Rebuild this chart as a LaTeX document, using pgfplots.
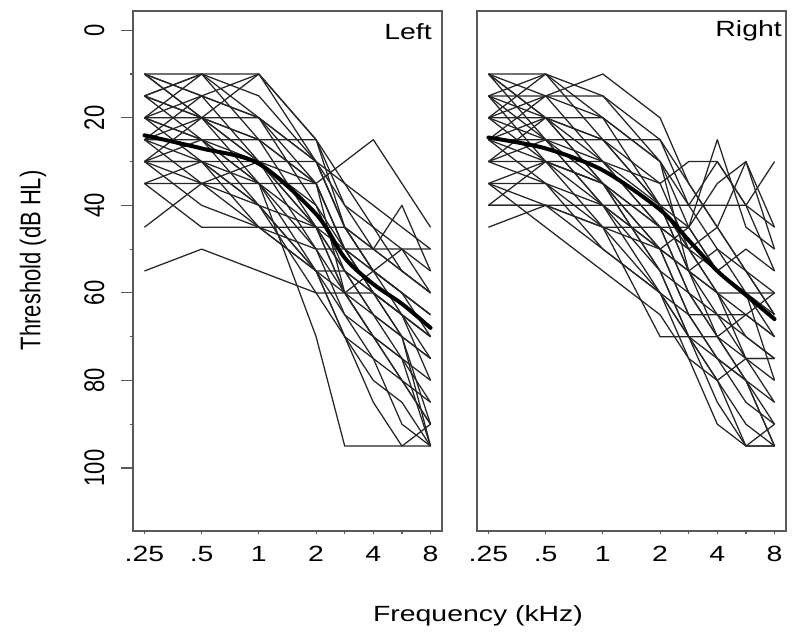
\documentclass[border=0pt]{standalone}
\usepackage{pgfplots}
\pgfplotsset{compat=1.18}
\usepackage{graphicx}
\usepackage{fontspec}
% the reference is stretched sideways, so the text is too
\setmainfont{Liberation Sans}[FakeStretch=1.29]
\newfontfamily\rotfont{Liberation Sans}

% one audiogram: .25 .5 1 2 3 4 6 kHz and 8 kHz (3 and 6 kHz sit half way)
\newcommand\ear[8]{\addplot[subj] coordinates {(1,#1)(2,#2)(3,#3)(4,#4)(4.5,#5)(5,#6)(5.5,#7)(6,#8)};}

\pgfplotsset{
  subj/.style={black!85, line width=0.95pt, line join=round},
  meanline/.style={black, line width=3pt, smooth, line cap=round},
  panel/.style={
    scale only axis, width=231.75pt, height=390pt, anchor=south west,
    xmin=0.8, xmax=6.2, ymin=-4.4, ymax=114.4, y dir=reverse,
    axis line style={black!65, line width=1.1pt},
    tick style={black!65, line width=0.9pt},
    tick align=outside, xtick pos=bottom, ytick pos=left,
    xtick={1,...,6}, xticklabels={.25,.5,1,2,4,8},
    minor xtick={4.5,5.5},
    xtick style={/pgfplots/major tick length=2.5pt,/pgfplots/minor tick length=2.5pt},
    ytick style={/pgfplots/major tick length=9pt,/pgfplots/minor tick length=2.5pt},
    xticklabel style={anchor=north, inner sep=0pt, yshift=-7pt, font=\fontsize{16.5}{18}\selectfont},
    /pgf/number format/assume math mode=true,
    clip=false,
  },
}

\begin{document}
\begin{tikzpicture}
\begin{axis}[panel, at={(0pt,0pt)},
    ytick={0,20,...,100}, minor ytick={10,30,...,90},
    yticklabel={\scalebox{1}[1.29]{\rotfont\fontsize{16.5}{18}\selectfont\pgfmathprintnumber{\tick}}},
    yticklabel style={rotate=90, anchor=south, inner sep=0pt},
    yticklabel shift=17pt,
  ]
\ear{10}{10}{10}{25}{40}{45}{55}{60}
\ear{10}{15}{20}{30}{45}{55}{60}{65}
\ear{10}{20}{25}{35}{50}{60}{65}{70}
\ear{15}{10}{15}{30}{40}{50}{55}{60}
\ear{15}{20}{30}{40}{55}{65}{70}{75}
\ear{15}{10}{25}{35}{50}{55}{65}{80}
\ear{20}{15}{10}{25}{45}{55}{60}{70}
\ear{20}{25}{30}{35}{60}{65}{75}{85}
\ear{20}{20}{20}{40}{50}{60}{70}{90}
\ear{25}{25}{25}{25}{35}{45}{50}{55}
\ear{25}{30}{35}{45}{55}{65}{70}{95}
\ear{25}{20}{30}{50}{60}{70}{80}{90}
\ear{25}{15}{20}{35}{50}{55}{60}{65}
\ear{30}{30}{30}{30}{35}{40}{45}{50}
\ear{30}{35}{40}{45}{50}{60}{70}{75}
\ear{30}{25}{35}{50}{65}{75}{90}{95}
\ear{30}{20}{10}{30}{45}{50}{55}{60}
\ear{35}{35}{35}{35}{30}{25}{35}{45}
\ear{35}{30}{40}{55}{70}{80}{85}{95}
\ear{45}{35}{30}{45}{60}{70}{80}{85}
\ear{55}{50}{55}{60}{60}{60}{65}{70}
\ear{20}{25}{35}{70}{95}{95}{95}{95}
\ear{15}{20}{25}{45}{55}{60}{65}{70}
\ear{10}{15}{30}{45}{60}{70}{75}{80}
\ear{20}{30}{45}{55}{70}{75}{80}{90}
\ear{25}{35}{45}{50}{50}{50}{50}{50}
\ear{30}{40}{45}{45}{45}{55}{60}{65}
\ear{15}{25}{40}{60}{70}{85}{95}{90}
\ear{35}{45}{45}{55}{65}{70}{75}{95}
\ear{20}{10}{20}{30}{45}{50}{40}{55}
\ear{30}{30}{40}{55}{60}{55}{50}{60}
\ear{10}{20}{35}{55}{55}{60}{65}{75}
\addplot[meanline] coordinates {(1,24) (2,27) (3,30.5) (4,42) (4.5,52) (5,58) (5.5,62.5) (6,68)};
\end{axis}
\node[anchor=north east, inner sep=0pt, font=\fontsize{16.5}{18}\selectfont]
  at (224.25pt,381pt) {Left};

\begin{axis}[panel, at={(258pt,0pt)},
    ytick=\empty, minor ytick={},
  ]
\ear{10}{15}{10}{20}{35}{45}{55}{60}
\ear{10}{20}{25}{35}{50}{60}{70}{75}
\ear{10}{10}{15}{30}{45}{55}{60}{70}
\ear{15}{10}{20}{40}{55}{65}{75}{85}
\ear{15}{15}{15}{25}{40}{50}{55}{65}
\ear{15}{25}{30}{45}{60}{70}{80}{95}
\ear{20}{20}{20}{30}{40}{30}{40}{30}
\ear{20}{15}{30}{40}{45}{25}{45}{50}
\ear{25}{25}{25}{40}{55}{60}{65}{70}
\ear{25}{20}{35}{50}{65}{75}{85}{90}
\ear{25}{30}{30}{35}{30}{30}{40}{45}
\ear{25}{15}{20}{30}{55}{70}{65}{60}
\ear{30}{30}{35}{45}{60}{70}{75}{80}
\ear{30}{25}{40}{55}{70}{80}{90}{95}
\ear{30}{20}{25}{25}{35}{45}{30}{45}
\ear{35}{35}{40}{50}{65}{65}{70}{75}
\ear{35}{30}{35}{45}{50}{60}{75}{75}
\ear{35}{40}{40}{40}{40}{40}{40}{55}
\ear{40}{40}{45}{45}{45}{55}{60}{65}
\ear{40}{30}{35}{55}{70}{85}{95}{95}
\ear{45}{40}{50}{60}{70}{70}{80}{85}
\ear{10}{25}{40}{60}{65}{75}{80}{95}
\ear{15}{20}{35}{55}{60}{65}{65}{70}
\ear{20}{30}{45}{70}{70}{75}{80}{90}
\ear{25}{35}{50}{60}{70}{80}{95}{90}
\ear{30}{35}{45}{60}{75}{90}{95}{95}
\ear{10}{20}{30}{45}{50}{45}{55}{65}
\ear{20}{25}{35}{50}{55}{50}{60}{80}
\ear{15}{30}{40}{50}{45}{35}{30}{50}
\ear{35}{45}{55}{65}{75}{80}{75}{75}
\ear{40}{40}{45}{50}{55}{60}{60}{60}
\ear{20}{10}{25}{40}{50}{55}{50}{55}
\addplot[meanline] coordinates {(1,24.5) (2,27) (3,32) (4,41) (4.5,48) (5,55) (5.5,60.5) (6,66)};
\end{axis}
\node[anchor=north east, inner sep=0pt, font=\fontsize{16.5}{18}\selectfont]
  at (486.75pt,383.25pt) {Right};

\node[rotate=90, inner sep=0pt] at (-75pt,203pt)
  {\scalebox{1}[1.29]{\rotfont\fontsize{16.5}{18}\selectfont Threshold (dB HL)}};
\node[anchor=base, inner sep=0pt, font=\fontsize{16.5}{18}\selectfont]
  at (258.75pt,-68.25pt) {Frequency (kHz)};

\pgfresetboundingbox
\path (-99.75pt,-82.5pt) rectangle (500.25pt,398.25pt);
\end{tikzpicture}
\end{document}
